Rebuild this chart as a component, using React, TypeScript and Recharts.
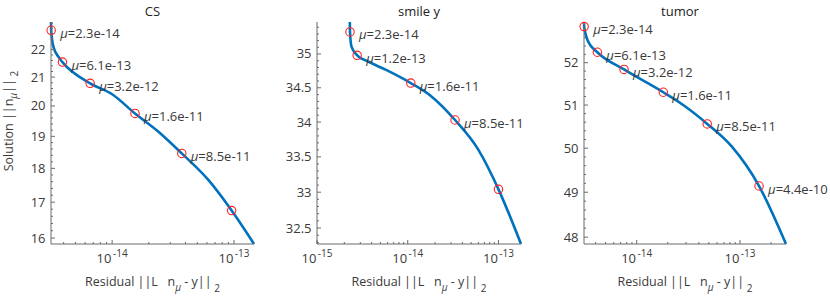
import React from "react";
import { ComposedChart, Line, Scatter, XAxis, YAxis } from "recharts";

const FONT = "'Open Sans', 'DejaVu Sans', sans-serif";
const BLUE = "#0072bd";
const RED = "#ff2020";
const AXIS = "#6b6b6b";
const TEXT = "#3a3a3a";

// CS
const csCurveX = [3.15e-15, 3.16e-15, 3.3e-15, 3.63e-15, 3.91e-15, 6.6e-15, 1.0e-14, 1.54e-14, 2.4e-14, 3.73e-14, 6.16e-14, 9.57e-14, 1.46e-13];
const csCurveY = [23.05, 22.73, 22.1, 21.73, 21.54, 20.78, 20.4, 19.75, 19.15, 18.46, 17.65, 16.76, 15.84];
const csMarkX = [3.16e-15, 3.91e-15, 6.6e-15, 1.54e-14, 3.73e-14, 9.57e-14];
const csMarkY = [22.73, 21.54, 20.78, 19.75, 18.46, 16.76];
const csMu = ["2.3e-14", "6.1e-13", "3.2e-12", "1.6e-11", "8.5e-11", ""];
const csXDomain = [3.15e-15, 1.46e-13];
const csYDomain = [15.84, 23.05];
const csYTicks = [16, 17, 18, 19, 20, 21, 22];

// smile y
const smCurveX = [2.3e-15, 2.31e-15, 2.4e-15, 2.77e-15, 3.51e-15, 5.85e-15, 1.08e-14, 1.84e-14, 3.32e-14, 6.01e-14, 1.0e-13, 1.77e-13];
const smCurveY = [35.48, 35.33, 35.11, 34.98, 34.9, 34.76, 34.57, 34.37, 34.03, 33.6, 33.04, 32.28];
const smMarkX = [2.31e-15, 2.77e-15, 1.08e-14, 3.32e-14, 1.0e-13];
const smMarkY = [35.33, 34.98, 34.57, 34.03, 33.04];
const smMu = ["2.3e-14", "1.2e-13", "1.6e-11", "8.5e-11", ""];
const smXDomain = [1e-15, 1.77e-13];
const smYDomain = [32.28, 35.48];
const smYTicks = [32.5, 33, 33.5, 34, 34.5, 35];

// tumor
const tuCurveX = [3.09e-15, 3.1e-15, 3.4e-15, 4.16e-15, 7.54e-15, 1.81e-14, 2.82e-14, 4.82e-14, 8.31e-14, 1.53e-13, 2.79e-13];
const tuCurveY = [52.95, 52.87, 52.5, 52.25, 51.84, 51.3, 51.0, 50.56, 50.04, 49.14, 47.85];
const tuMarkX = [3.1e-15, 4.16e-15, 7.54e-15, 1.81e-14, 4.82e-14, 1.53e-13];
const tuMarkY = [52.87, 52.25, 51.84, 51.3, 50.56, 49.14];
const tuMu = ["2.3e-14", "6.1e-13", "3.2e-12", "1.6e-11", "8.5e-11", "4.4e-10"];
const tuXDomain = [3.09e-15, 2.79e-13];
const tuYDomain = [47.85, 52.98];
const tuYTicks = [48, 49, 50, 51, 52];

const logTicks = (d: number[]) => {
  const out: number[] = [];
  for (let e = Math.floor(Math.log10(d[0])); e <= Math.ceil(Math.log10(d[1])); e++) {
    for (let m = 1; m <= 9; m++) {
      const v = m * Math.pow(10, e);
      if (v >= d[0] * 0.999 && v <= d[1]) out.push(v);
    }
  }
  return out;
};

const linTicks = (d: number[], step: number) => {
  const out: number[] = [];
  for (let k = Math.ceil(d[0] / step); k * step <= d[1]; k++) {
    out.push(Math.round(k * step * 100) / 100);
  }
  return out;
};

const XTick = (props: any) => {
  const { x, y, payload } = props;
  const lg = Math.log10(payload.value);
  const e = Math.round(lg);
  const major = Math.abs(lg - e) < 1e-6;
  return (
    <g>
      <line x1={x} x2={x} y1={y} y2={y - (major ? 4 : 2)} stroke={AXIS} />
      {major && (
        <text x={x} y={y + 18.5} textAnchor="middle" fontSize={13} fill={TEXT} fontFamily={FONT}>
          10
          <tspan dx={1.5} dy={-6} fontSize={10}>{e}</tspan>
        </text>
      )}
    </g>
  );
};

const makeYTick = (majors: number[]) => (props: any) => {
  const { x, y, payload } = props;
  const major = majors.some((m) => Math.abs(m - payload.value) < 1e-6);
  return (
    <g>
      <line x1={x} x2={x + (major ? 4 : 2)} y1={y} y2={y} stroke={AXIS} />
      {major && (
        <text x={x - 5.5} y={y + 4.5} textAnchor="end" fontSize={13} fill={TEXT} fontFamily={FONT}>
          {payload.value}
        </text>
      )}
    </g>
  );
};

const Marker = (p: any) => (
  <g>
    <circle cx={p.cx} cy={p.cy} r={4.2} fill="none" stroke={RED} strokeWidth={1.1} />
    {p.payload.mu && (
      <text x={p.cx + 9} y={p.cy + 7.5} fontSize={13} fill={TEXT} fontFamily={FONT}>
        <tspan fontStyle="italic">μ</tspan>={p.payload.mu}
      </text>
    )}
  </g>
);

function Panel(props: any) {
  const { left, width, yw, right, cx, cy, mx, my, mu, xd, yd, yMajor, yStep } = props;
  const curve = cx.map((x: number, i: number) => ({ x, y: cy[i] }));
  const marks = mx.map((x: number, i: number) => ({ x, y: my[i], mu: mu[i] }));
  return (
    <div style={{ position: "absolute", left, top: 0 }}>
      <ComposedChart width={width} height={296} margin={{ top: 22, right, bottom: 0, left: 0 }} style={{ overflow: "visible" }}>
        <XAxis
          dataKey="x"
          type="number"
          scale="log"
          domain={xd}
          ticks={logTicks(xd)}
          interval={0}
          tick={XTick}
          tickLine={false}
          tickSize={0}
          tickMargin={0}
          height={52}
          axisLine={{ stroke: AXIS }}
        />
        <YAxis
          type="number"
          scale="log"
          domain={yd}
          ticks={linTicks(yd, yStep)}
          interval={0}
          tick={makeYTick(yMajor)}
          tickLine={false}
          tickSize={0}
          tickMargin={0}
          width={yw}
          axisLine={{ stroke: AXIS }}
        />
        <Line data={curve} dataKey="y" type="monotone" stroke={BLUE} strokeWidth={2.6} dot={false} isAnimationActive={false} />
        <Scatter data={marks} dataKey="y" shape={Marker} isAnimationActive={false} />
      </ComposedChart>
    </div>
  );
}

const XLabel = ({ x }: { x: number }) => (
  <text x={x} y={286} textAnchor="middle" fontSize={12.5} fill={TEXT} fontFamily={FONT} style={{ whiteSpace: "pre" }}>
    {"Residual ||L   n"}
    <tspan dy={5} fontSize={10} fontStyle="italic">μ</tspan>
    <tspan dy={-5}>{" - y||"}</tspan>
    <tspan dy={6} fontSize={10}>{" 2"}</tspan>
  </text>
);

export default function App() {
  return (
    <div style={{ position: "absolute", left: 0, top: 0, width: 830, height: 296, background: "#fff" }}>
      <Panel left={0} width={270} yw={51} right={16} cx={csCurveX} cy={csCurveY} mx={csMarkX} my={csMarkY} mu={csMu} xd={csXDomain} yd={csYDomain} yMajor={csYTicks} yStep={0.2} />
      <Panel left={270} width={270} yw={47} right={19} cx={smCurveX} cy={smCurveY} mx={smMarkX} my={smMarkY} mu={smMu} xd={smXDomain} yd={smYDomain} yMajor={smYTicks} yStep={0.1} />
      <Panel left={540} width={290} yw={44} right={44} cx={tuCurveX} cy={tuCurveY} mx={tuMarkX} my={tuMarkY} mu={tuMu} xd={tuXDomain} yd={tuYDomain} yMajor={tuYTicks} yStep={0.2} />
      <svg width={830} height={296} style={{ position: "absolute", left: 0, top: 0, pointerEvents: "none", overflow: "visible" }}>
        <text x={152.5} y={15.5} textAnchor="middle" fontSize={13} fill="#222" fontFamily={FONT}>CS</text>
        <text x={419} y={15.5} textAnchor="middle" fontSize={13} fill="#222" fontFamily={FONT}>smile y</text>
        <text x={680} y={15.5} textAnchor="middle" fontSize={13} fill="#222" fontFamily={FONT}>tumor</text>
        <XLabel x={152.5} />
        <XLabel x={419} />
        <XLabel x={685} />
        <text transform="translate(12.5,121) rotate(-90)" textAnchor="middle" fontSize={12.5} fill={TEXT} fontFamily={FONT} style={{ whiteSpace: "pre" }}>
          {"Solution ||n"}
          <tspan dy={4} fontSize={10} fontStyle="italic">μ</tspan>
          <tspan dy={-4}>{"||"}</tspan>
          <tspan dy={5} fontSize={10}>{" 2"}</tspan>
        </text>
      </svg>
    </div>
  );
}
